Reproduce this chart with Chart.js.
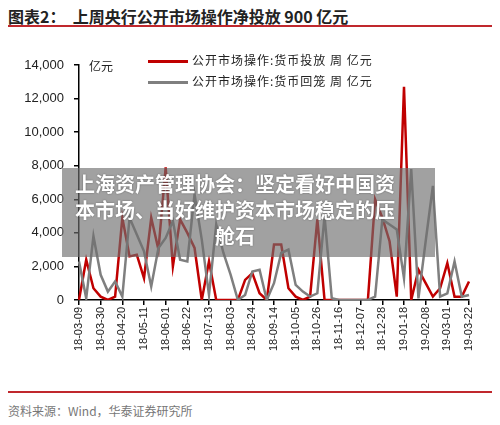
<!DOCTYPE html>
<html>
<head>
<meta charset="utf-8">
<script src="https://cdn.jsdelivr.net/npm/chart.js@4"></script>
<style>
  html, body { margin:0; padding:0; background:#fff; }
  body { width:500px; height:425px; position:relative; overflow:hidden;
         font-family:"Noto Sans CJK SC", sans-serif; }
  #wrap { position:absolute; left:0; top:0; width:500px; height:380px; }
  .title { position:absolute; left:8px; top:4px; font-size:16px; font-weight:bold; color:#222; white-space:pre; }
  .rule  { position:absolute; left:8px; width:484px; height:2px; background:#c0282d; }
  .src   { position:absolute; left:8px; top:402px; font-size:12px; color:#777; }
  .unit  { position:absolute; left:89px; top:57px; font-size:12px; color:#222; }
  .leg   { position:absolute; left:148px; font-size:12px; color:#222; letter-spacing:1px; }
  .leg i { display:inline-block; width:40px; height:3px; vertical-align:middle; margin-right:4px; }
  .banner { position:absolute; left:62px; top:168px; width:373px; height:89px;
            background:rgba(110,110,110,0.65); }
  .banner div { position:absolute; left:-5px; width:356px; text-align:center; color:#fff;
                font-size:20px; font-weight:bold; line-height:25px; text-shadow:0 0 2px rgba(0,0,0,.4); }
</style>
</head>
<body>
<div class="title">图表2：  上周央行公开市场操作净投放 900 亿元</div>
<div class="rule" style="top:25px"></div>
<div id="wrap"><canvas id="c" width="500" height="380"></canvas></div>
<div class="unit">亿元</div>
<div class="leg" style="top:51px"><i style="background:#C00000"></i>公开市场操作:货币投放 周 亿元</div>
<div class="leg" style="top:72px"><i style="background:#7F7F7F"></i>公开市场操作:货币回笼 周 亿元</div>
<div class="banner">
  <div style="top:3px">上海资产管理协会：坚定看好中国资</div>
  <div style="top:29px">本市场、当好维护资本市场稳定的压</div>
  <div style="top:55px">舱石</div>
</div>
<div class="rule" style="top:391px"></div>
<div class="src">资料来源：Wind，华泰证券研究所</div>

<script>
// ── Data (weekly, 亿元) ─────────────────────────
const WEEKS = [
  '18-03-09','18-03-16','18-03-23','18-03-30','18-04-06','18-04-13','18-04-20','18-04-27',
  '18-05-04','18-05-11','18-05-18','18-05-25','18-06-01','18-06-08','18-06-15','18-06-22',
  '18-06-29','18-07-06','18-07-13','18-07-20','18-07-27','18-08-03','18-08-10','18-08-17',
  '18-08-24','18-08-31','18-09-07','18-09-14','18-09-21','18-09-28','18-10-05','18-10-12',
  '18-10-19','18-10-26','18-11-02','18-11-09','18-11-16','18-11-23','18-11-30','18-12-07',
  '18-12-14','18-12-21','18-12-28','19-01-04','19-01-11','19-01-18','19-01-25','19-02-01',
  '19-02-08','19-02-15','19-02-22','19-03-01','19-03-08','19-03-15','19-03-22'
];

// 货币投放
const INJECT = [
  0, 2400, 700, 200, 0, 200, 4900, 2600, 2700, 1300,
  4900, 3000, 7900, 2000, 4800, 4000, 3100, 0, 2300, 0,
  0, 0, 0, 1200, 1600, 400, 0, 3300, 3300, 700,
  200, 0, 200, 4800, 0, 0, 0, 0, 0, 0,
  0, 6000, 4900, 3500, 200, 12700, 0, 1800, 1000, 200,
  700, 2200, 200, 200, 1100
];

// 货币回笼
const DRAIN = [
  2300, 100, 3800, 1500, 500, 1100, 200, 4900, 3900, 2900,
  800, 3100, 3700, 4700, 2400, 2300, 6300, 3600, 300, 4500,
  2800, 1500, 0, 300, 1700, 1800, 0, 1000, 2800, 3000,
  900, 500, 200, 400, 5000, 100, 0, 0, 0, 0,
  0, 200, 4800, 4500, 4200, 1300, 7800, 100, 3500, 6800,
  200, 400, 2300, 200, 300
];

const Y_MAX  = 14000;
const Y_STEP = 2000;
const LABEL_EVERY = 3;

// ── Chart ──────────────────────────────────────
new Chart(document.getElementById('c'), {
    type: 'line',
    data: {
        labels: WEEKS,
        datasets: [
            { label:'投放', data: INJECT, borderColor:'#C00000', borderWidth:2.5,
              pointRadius:0, tension:0, order:2 },
            { label:'回笼', data: DRAIN,  borderColor:'#7F7F7F', borderWidth:2.5,
              pointRadius:0, tension:0, order:1 },
        ],
    },
    options: {
        responsive: false,
        animation: false,
        layout: { padding: { top:65, right:31, left:0, bottom:0 } },
        plugins: { legend:{ display:false }, tooltip:{ enabled:false } },
        scales: {
            x: {
                offset: false,
                border: { color:'#000', width:1.5 },
                grid:   { drawOnChartArea:false, drawTicks:true, tickLength:5, color:'#000', lineWidth:1.5 },
                ticks: {
                    autoSkip:false, minRotation:90, maxRotation:90, padding:2,
                    color:'#222', font:{ family:'Liberation Sans', size:11 },
                    callback: (v, i) => i % LABEL_EVERY === 0 ? WEEKS[i] : null,
                },
                afterFit: s => { s.height = 80; },
            },
            y: {
                min:0, max:Y_MAX,
                border: { color:'#000', width:1.5 },
                grid:   { drawOnChartArea:false, drawTicks:true, tickLength:5, color:'#000', lineWidth:1.5 },
                ticks: {
                    stepSize:Y_STEP, padding:10, color:'#222',
                    font:{ family:'Liberation Sans', size:13 },
                    callback: v => v.toLocaleString('en-US'),
                },
                afterFit: s => { s.width = 79; },
            },
        },
    },
});
</script>
</body>
</html>
